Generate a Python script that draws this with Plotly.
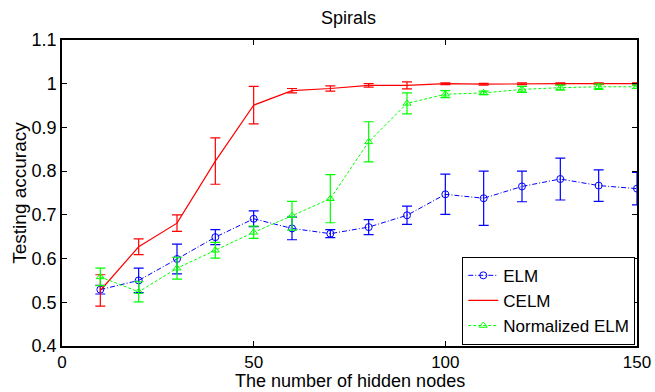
import plotly.graph_objects as go

# Number of hidden nodes
nodes = [10, 20, 30, 40, 50, 60, 70, 80, 90, 100, 110, 120, 130, 140, 150]

# ELM: mean testing accuracy and standard deviation
elm_mean = [0.529, 0.550, 0.599, 0.649, 0.691, 0.669, 0.657, 0.672, 0.699,
            0.747, 0.738, 0.765, 0.782, 0.767, 0.760]
elm_std = [0.010, 0.028, 0.034, 0.017, 0.018, 0.026, 0.009, 0.017, 0.021,
           0.046, 0.062, 0.035, 0.048, 0.036, 0.037]

# CELM
celm_mean = [0.527, 0.627, 0.681, 0.823, 0.951, 0.984, 0.989, 0.996, 0.996,
             1.000, 0.999, 1.000, 1.000, 1.000, 1.000]
celm_std = [0.036, 0.018, 0.019, 0.053, 0.043, 0.005, 0.006, 0.004, 0.008,
            0.002, 0.002, 0.002, 0.002, 0.002, 0.002]

# Normalized ELM
nelm_mean = [0.558, 0.524, 0.578, 0.619, 0.660, 0.698, 0.737, 0.867, 0.955,
             0.976, 0.979, 0.987, 0.991, 0.993, 0.993]
nelm_std = [0.020, 0.023, 0.025, 0.018, 0.014, 0.033, 0.055, 0.046, 0.024,
            0.008, 0.004, 0.007, 0.006, 0.006, 0.004]

y_ticks = [0.4, 0.5, 0.6, 0.7, 0.8, 0.9, 1.0, 1.1]
y_labels = ["0.4", "0.5", "0.6", "0.7", "0.8", "0.9", "1", "1.1"]
x_ticks = [0, 50, 100, 150]

FONT = "Liberation Sans, Arial, Helvetica, sans-serif"

fig = go.Figure()

fig.add_trace(go.Scatter(
    x=nodes, y=elm_mean, name="ELM", mode="lines+markers",
    line=dict(color="#0000ff", width=1, dash="5px,2px,1px,2px"),
    marker=dict(symbol="circle-open", size=7, color="#0000ff", line=dict(width=1)),
    error_y=dict(type="data", array=elm_std, visible=True, color="#0000ff",
                 thickness=1.2, width=5),
))
fig.add_trace(go.Scatter(
    x=nodes, y=celm_mean, name="CELM", mode="lines",
    line=dict(color="#ff0000", width=1.2),
    error_y=dict(type="data", array=celm_std, visible=True, color="#ff0000",
                 thickness=1.2, width=5),
))
fig.add_trace(go.Scatter(
    x=nodes, y=nelm_mean, name="Normalized ELM", mode="lines+markers",
    line=dict(color="#00ff00", width=1, dash="3px,2px"),
    marker=dict(symbol="triangle-up-open", size=7, color="#00ff00", line=dict(width=1)),
    error_y=dict(type="data", array=nelm_std, visible=True, color="#00ff00",
                 thickness=1.2, width=5),
))

axis_common = dict(
    showline=True, linecolor="black", linewidth=1.5, mirror="allticks",
    ticks="inside", ticklen=5, tickcolor="black", showgrid=False, zeroline=False,
    automargin=False,
)

fig.update_layout(
    template="none",
    width=655, height=392,
    margin=dict(l=62, r=18, t=40, b=46, pad=0),
    paper_bgcolor="white", plot_bgcolor="white",
    font=dict(family=FONT, color="black"),
    title=dict(text="Spirals", x=0.532, xanchor="center", y=0.956, yanchor="middle",
               font=dict(family=FONT, size=18, color="black")),
    xaxis=dict(range=[0, 150], tickvals=x_ticks,
               tickfont=dict(family=FONT, size=17, color="black"), **axis_common),
    yaxis=dict(range=[0.4, 1.1], tickvals=y_ticks, ticktext=y_labels,
               tickfont=dict(family=FONT, size=18, color="black"),
               title=dict(text="Testing accuracy", standoff=0,
                          font=dict(family=FONT, size=19)),
               **axis_common),
    legend=dict(x=0.997, y=0.004, xanchor="right", yanchor="bottom",
                bgcolor="white", bordercolor="black", borderwidth=1,
                font=dict(family=FONT, size=17, color="black"),
                tracegroupgap=0, itemwidth=30),
    showlegend=True,
)

# x-axis title, anchored to the bottom edge of the figure
fig.add_annotation(
    text="The number of hidden nodes", xref="paper", yref="paper",
    x=0.5, y=-46 / 306, xanchor="center", yanchor="bottom",
    showarrow=False, borderpad=0,
    font=dict(family=FONT, size=18, color="black"),
)

fig.write_html("out.html")
